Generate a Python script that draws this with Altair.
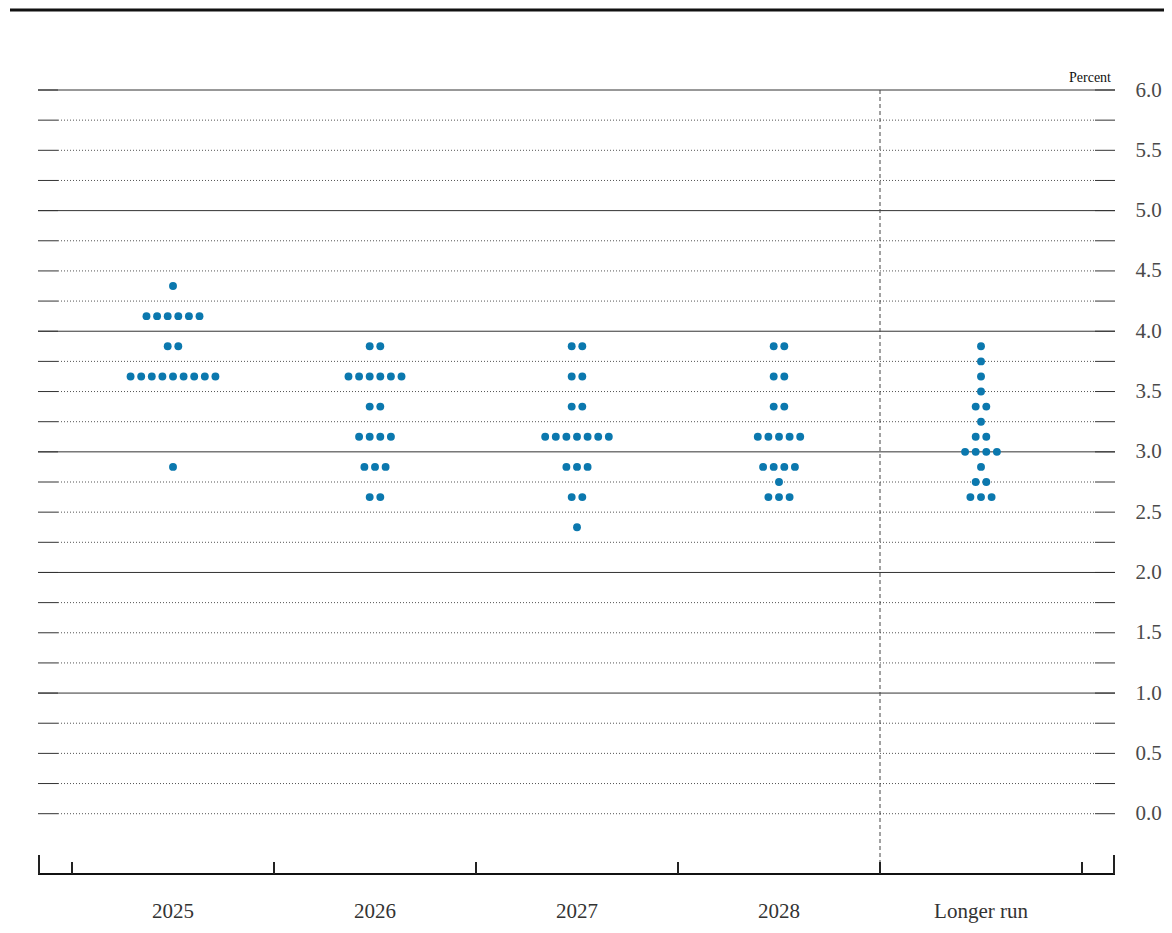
import altair as alt
import pandas as pd

categories = ["2025", "2026", "2027", "2028", "Longer run"]

levels_2025 = [4.375, 4.125, 3.875, 3.625, 2.875]
counts_2025 = [1, 6, 2, 9, 1]
levels_2026 = [3.875, 3.625, 3.375, 3.125, 2.875, 2.625]
counts_2026 = [2, 6, 2, 4, 3, 2]
levels_2027 = [3.875, 3.625, 3.375, 3.125, 2.875, 2.625, 2.375]
counts_2027 = [2, 2, 2, 7, 3, 2, 1]
levels_2028 = [3.875, 3.625, 3.375, 3.125, 2.875, 2.75, 2.625]
counts_2028 = [2, 2, 2, 5, 4, 1, 3]
levels_lr = [3.875, 3.75, 3.625, 3.5, 3.375, 3.25, 3.125, 3.0, 2.875, 2.75, 2.625]
counts_lr = [1, 1, 1, 1, 2, 1, 2, 4, 1, 2, 3]

grid_levels = [i * 0.25 for i in range(25)]
label_values = [i * 0.5 for i in range(13)]
boundaries = [0, 1, 2, 3, 4, 5]

all_levels = [levels_2025, levels_2026, levels_2027, levels_2028, levels_lr]
all_counts = [counts_2025, counts_2026, counts_2027, counts_2028, counts_lr]

rows = []
for ci, (lv, ct) in enumerate(zip(all_levels, all_counts)):
    for v, n in zip(lv, ct):
        for k in range(n):
            rows.append({"cat": categories[ci], "idx": ci, "rate": v, "k": k, "n": n})
dots = pd.DataFrame(rows)

W, H = 1077, 784
SPACING = 0.0525  # horizontal dot spacing in category units

xscale = alt.Scale(domain=[-34 / 202, 1043 / 202], nice=False, zero=False)
yscale = alt.Scale(domain=[-0.5, 6.0], nice=False, zero=False)
yaxis = alt.Axis(
    orient="right", values=label_values, format=".1f", title=None,
    domain=False, ticks=False, grid=False, labelPadding=20,
    labelFont="Liberation Serif", labelFontSize=21, labelColor="#4a4a4a",
)

grid_df = pd.DataFrame({"level": grid_levels})
grid_df["solid"] = grid_df["level"].apply(lambda v: v >= 1 and abs(v - round(v)) < 1e-9)

solid_lines = alt.Chart(grid_df).transform_filter("datum.solid").mark_rule(
    color="#333333", strokeWidth=1
).encode(y=alt.Y("level:Q", scale=yscale, axis=yaxis), x=alt.value(0), x2=alt.value(W))

dotted_lines = alt.Chart(grid_df).transform_filter("!datum.solid").mark_rule(
    color="#555555", strokeWidth=1, strokeDash=[1, 2]
).encode(y=alt.Y("level:Q", scale=yscale, axis=yaxis), x=alt.value(20), x2=alt.value(W - 20))

left_ticks = alt.Chart(grid_df).mark_rule(color="#333333", strokeWidth=1).encode(
    y=alt.Y("level:Q", scale=yscale, axis=yaxis), x=alt.value(0), x2=alt.value(20)
)
right_ticks = alt.Chart(grid_df).mark_rule(color="#333333", strokeWidth=1).encode(
    y=alt.Y("level:Q", scale=yscale, axis=yaxis), x=alt.value(W - 20), x2=alt.value(W)
)

sep_line = alt.Chart(pd.DataFrame({"b": [4]})).mark_rule(
    color="#444444", strokeWidth=1, strokeDash=[4, 3]
).encode(x=alt.X("b:Q", scale=xscale, axis=None), y=alt.value(0), y2=alt.value(H))

bottom_line = alt.Chart(pd.DataFrame({"a": [0]})).mark_rule(
    color="#111111", strokeWidth=2
).encode(x=alt.value(0), x2=alt.value(W), y=alt.value(H))

bnd_ticks = alt.Chart(pd.DataFrame({"b": boundaries})).mark_rule(
    color="#222222", strokeWidth=2
).encode(x=alt.X("b:Q", scale=xscale, axis=None), y=alt.value(H), y2=alt.value(H - 12))

end_ticks = alt.Chart(pd.DataFrame({"p": [1, W - 1]})).mark_rule(
    color="#222222", strokeWidth=2
).encode(x=alt.X("p:Q", scale=None), y=alt.value(H), y2=alt.value(H - 19))

top_line = alt.Chart(pd.DataFrame({"a": [0]})).mark_rule(
    color="#111111", strokeWidth=3
).encode(x=alt.value(-28), x2=alt.value(1134), y=alt.value(-80))

points = alt.Chart(dots).transform_calculate(
    xpos=f"datum.idx + 0.5 + (datum.k - (datum.n - 1) / 2) * {SPACING}"
).mark_circle(size=62, color="#0b78ae", opacity=1).encode(
    x=alt.X("xpos:Q", scale=xscale, axis=None),
    y=alt.Y("rate:Q", scale=yscale, axis=yaxis),
)

cat_df = pd.DataFrame({"cat": categories, "idx": list(range(len(categories)))})
cat_labels = alt.Chart(cat_df).transform_calculate(cx="datum.idx + 0.5").mark_text(
    font="Liberation Serif", fontSize=21, color="#333333", baseline="middle", align="center"
).encode(x=alt.X("cx:Q", scale=xscale, axis=None), y=alt.value(H + 38), text="cat:N")

percent = alt.Chart(pd.DataFrame({"t": ["Percent"]})).mark_text(
    font="Liberation Serif", fontSize=14, color="#111111", align="right", baseline="alphabetic"
).encode(x=alt.value(1073), y=alt.value(-8), text="t:N")

chart = alt.layer(
    solid_lines, dotted_lines, left_ticks, right_ticks, sep_line, bottom_line,
    bnd_ticks, end_ticks, top_line, points, cat_labels, percent,
).properties(
    width=W, height=H,
    padding={"left": 30, "top": 82, "right": 49, "bottom": 51},
    autosize=alt.AutoSizeParams(type="none"),
    background="white",
).configure_view(stroke=None)

chart.save("out.html", embed_options={"renderer": "svg", "actions": False})
